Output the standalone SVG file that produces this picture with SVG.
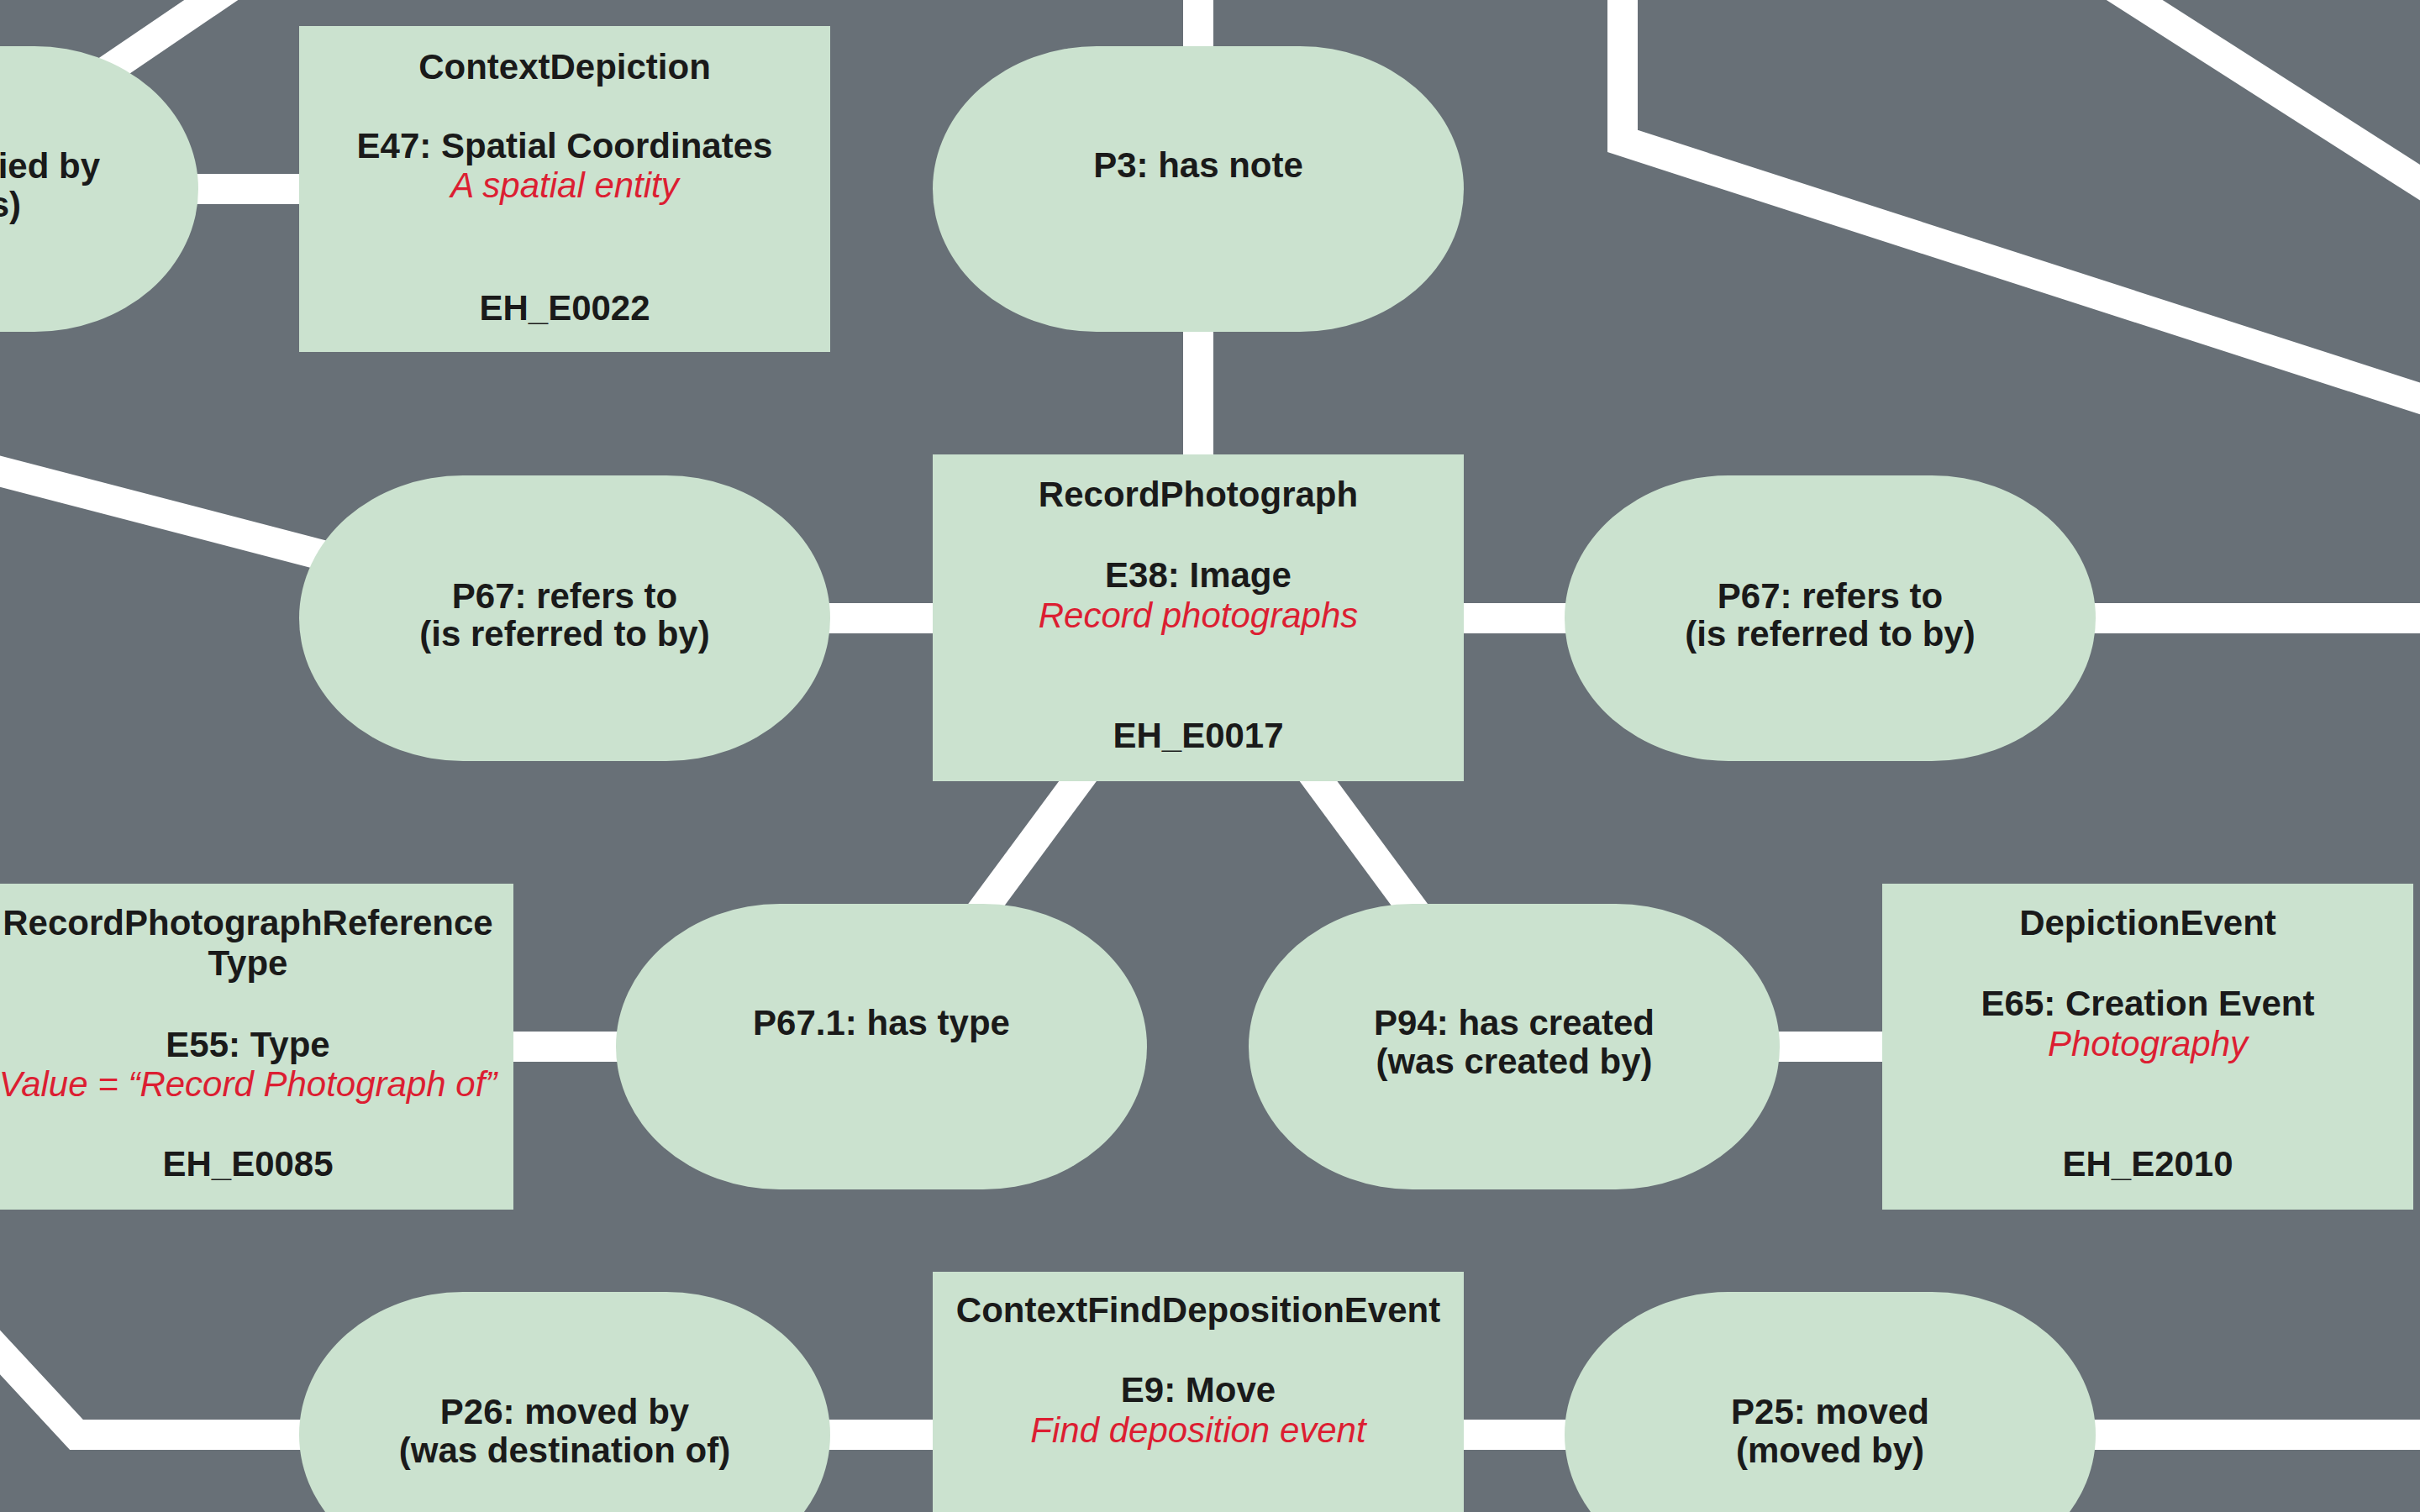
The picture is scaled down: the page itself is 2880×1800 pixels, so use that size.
<svg xmlns="http://www.w3.org/2000/svg" width="2880" height="1800" viewBox="0 0 2880 1800">
<style>
.bg{fill:#687077}
.conn{stroke:#ffffff;stroke-width:36;fill:none;stroke-linejoin:miter;stroke-linecap:butt}
.box{fill:#cbe2cf}
.t{font-family:"Liberation Sans",Arial,sans-serif;font-size:42px;font-weight:bold;fill:#1a1a1a;text-anchor:middle}
.r{font-family:"Liberation Sans",Arial,sans-serif;font-size:42px;font-style:italic;fill:#dc1e32;text-anchor:middle}
.e{text-anchor:end}
</style>
<rect class="bg" x="0" y="0" width="2880" height="1800"/>
<g id="connectors">
<line class="conn" x1="-80" y1="225" x2="400" y2="-101"/>
<line class="conn" x1="-80" y1="225" x2="672" y2="225"/>
<line class="conn" x1="-200" y1="509" x2="672" y2="736"/>
<line class="conn" x1="672" y1="736" x2="2950" y2="736"/>
<line class="conn" x1="1426" y1="-50" x2="1426" y2="736"/>
<polyline class="conn" points="1931,-50 1931,168 2950,497"/>
<line class="conn" x1="2462" y1="-50" x2="2950" y2="262"/>
<line class="conn" x1="1426" y1="736" x2="1049" y2="1246"/>
<line class="conn" x1="1426" y1="736" x2="1802" y2="1246"/>
<line class="conn" x1="295" y1="1246" x2="1049" y2="1246"/>
<line class="conn" x1="1802" y1="1246" x2="2556" y2="1246"/>
<polyline class="conn" points="-100,1502 91,1708 2950,1708"/>
</g>
<g id="P87">
<rect class="box" x="-396" y="55" width="632" height="340" rx="195" ry="170"/>
<text class="t e" x="119" y="212">ied by</text>
<text class="t e" x="25" y="258">s)</text>
</g>
<g id="ContextDepiction">
<rect class="box" x="356" y="31" width="632" height="388"/>
<text class="t" x="672" y="94">ContextDepiction</text>
<text class="t" x="672" y="188">E47: Spatial Coordinates</text>
<text class="r" x="672" y="235">A spatial entity</text>
<text class="t" x="672" y="381">EH_E0022</text>
</g>
<g id="P3">
<rect class="box" x="1110" y="55" width="632" height="340" rx="195" ry="170"/>
<text class="t" x="1426" y="211">P3: has note</text>
</g>
<g id="P67-left">
<rect class="box" x="356" y="566" width="632" height="340" rx="195" ry="170"/>
<text class="t" x="672" y="724">P67: refers to</text>
<text class="t" x="672" y="769">(is referred to by)</text>
</g>
<g id="RecordPhotograph">
<rect class="box" x="1110" y="541" width="632" height="389"/>
<text class="t" x="1426" y="603">RecordPhotograph</text>
<text class="t" x="1426" y="699">E38: Image</text>
<text class="r" x="1426" y="747">Record photographs</text>
<text class="t" x="1426" y="890">EH_E0017</text>
</g>
<g id="P67-right">
<rect class="box" x="1862" y="566" width="632" height="340" rx="195" ry="170"/>
<text class="t" x="2178" y="724">P67: refers to</text>
<text class="t" x="2178" y="769">(is referred to by)</text>
</g>
<g id="RecordPhotographReferenceType">
<rect class="box" x="-21" y="1052" width="632" height="388"/>
<text class="t" x="295" y="1113">RecordPhotographReference</text>
<text class="t" x="295" y="1161">Type</text>
<text class="t" x="295" y="1258">E55: Type</text>
<text class="r" x="295" y="1305">Value = “Record Photograph of”</text>
<text class="t" x="295" y="1400">EH_E0085</text>
</g>
<g id="P67-1">
<rect class="box" x="733" y="1076" width="632" height="340" rx="195" ry="170"/>
<text class="t" x="1049" y="1232">P67.1: has type</text>
</g>
<g id="P94">
<rect class="box" x="1486" y="1076" width="632" height="340" rx="195" ry="170"/>
<text class="t" x="1802" y="1232">P94: has created</text>
<text class="t" x="1802" y="1278">(was created by)</text>
</g>
<g id="DepictionEvent">
<rect class="box" x="2240" y="1052" width="632" height="388"/>
<text class="t" x="2556" y="1113">DepictionEvent</text>
<text class="t" x="2556" y="1209">E65: Creation Event</text>
<text class="r" x="2556" y="1257">Photography</text>
<text class="t" x="2556" y="1400">EH_E2010</text>
</g>
<g id="P26">
<rect class="box" x="356" y="1538" width="632" height="340" rx="195" ry="170"/>
<text class="t" x="672" y="1695">P26: moved by</text>
<text class="t" x="672" y="1741">(was destination of)</text>
</g>
<g id="ContextFindDepositionEvent">
<rect class="box" x="1110" y="1514" width="632" height="388"/>
<text class="t" x="1426" y="1574">ContextFindDepositionEvent</text>
<text class="t" x="1426" y="1669">E9: Move</text>
<text class="r" x="1426" y="1717">Find deposition event</text>
</g>
<g id="P25">
<rect class="box" x="1862" y="1538" width="632" height="340" rx="195" ry="170"/>
<text class="t" x="2178" y="1695">P25: moved</text>
<text class="t" x="2178" y="1741">(moved by)</text>
</g>
</svg>
